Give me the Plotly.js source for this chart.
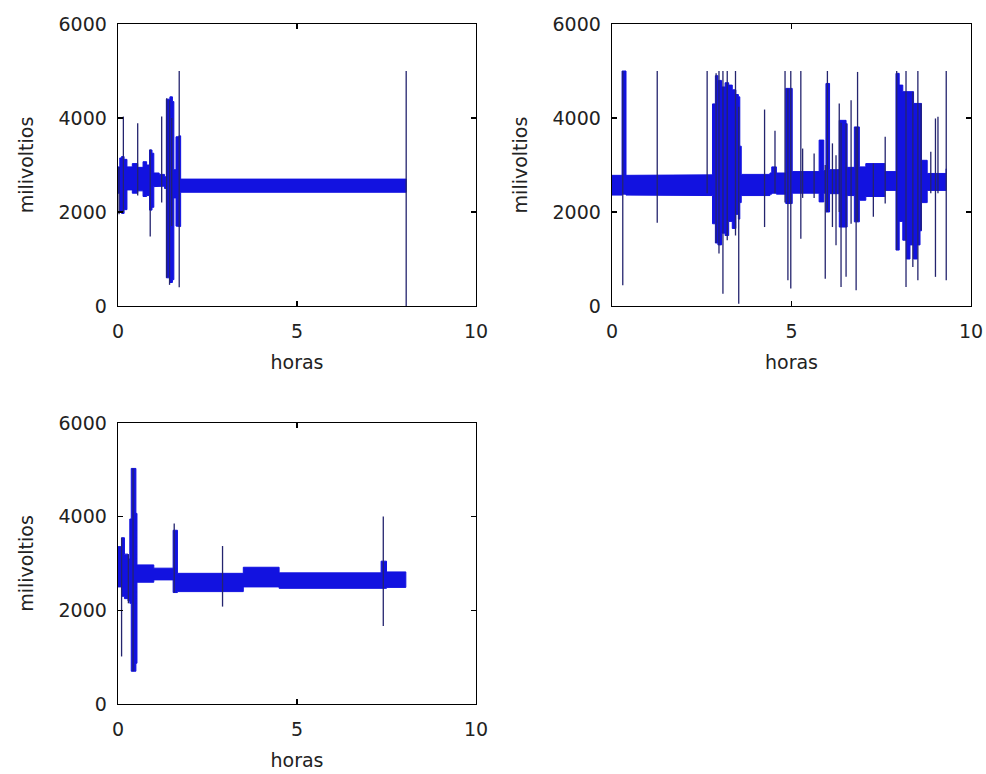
<!DOCTYPE html>
<html>
<head>
<meta charset="utf-8">
<script src="https://cdn.plot.ly/plotly-3.0.1.min.js"></script>
<style>
  html, body { margin: 0; padding: 0; background: #ffffff; }
  #chart { width: 986px; height: 774px; }
</style>
</head>
<body>
<div id="chart"></div>
<script>
// ---- Registro 1: envolvente de la señal (horas, máximo, mínimo) en mV ----
// cada valor se mantiene desde su instante hasta el siguiente
const tA  = [0.00, 0.05, 0.10, 0.17, 0.25, 0.40, 0.55, 0.70, 0.80, 0.88, 0.95, 1.00, 1.15, 1.30, 1.35, 1.45, 1.52, 1.56, 1.62, 1.70, 1.75, 8.05];
const upA = [2960, 3150, 3180, 3120, 2960, 3030, 2950, 3070, 3000, 3320, 3250, 2830, 2800, 2750, 4400, 4450, 4350, 2900, 3600, 3620, 2700, 2700];
const loA = [2400, 2000, 1970, 2050, 2470, 2400, 2450, 2330, 2350, 2040, 2100, 2540, 2550, 2500,  600,  500,  560, 2300, 1700, 1690, 2420, 2420];
// picos aislados: instante, valor superior, valor inferior
const spkA_t   = [0.03, 0.15, 0.55, 0.90, 1.22, 1.36, 1.44, 1.50, 1.71, 8.05];
const spkA_top = [2950, 4030, 3890, 3330, 4030, 4420, 4380, 4000, 5000, 5000];
const spkA_bot = [1950, 2000, 2350, 1480, 2200,  600,  450, 1700,  400,    0];

// ---- Registro 2 ----
const tB  = [0.00, 0.28, 0.38, 0.39, 2.77, 2.80, 2.88, 2.95, 3.05, 3.15, 3.25, 3.35, 3.45, 3.52, 3.56, 3.60, 4.40, 4.45, 4.53, 4.58, 4.84, 4.98, 5.02, 5.77, 5.86, 5.90, 5.96, 6.02, 6.06, 6.33, 6.52, 6.55, 6.75, 6.86, 6.89, 7.03, 7.07, 7.54, 7.60, 7.91, 8.00, 8.10, 8.20, 8.30, 8.40, 8.50, 8.58, 8.62, 8.75, 8.78, 9.31];
const upB = [2780, 5000, 5000, 2780, 2790, 4300, 4900, 4800, 4660, 4750, 4700, 4600, 4500, 4450, 3400, 2800, 2830, 2960, 2960, 2830, 4630, 4630, 2860, 3530, 3530, 2880, 4735, 4735, 2900, 3950, 3880, 2950, 3810, 3810, 2960, 2960, 3030, 3030, 2860, 4950, 4700, 4560, 4560, 4560, 4310, 4300, 4310, 3100, 3100, 2820, 2920];
const loB = [2360, 2380, 2380, 2360, 2350, 1750, 1340, 1300, 1550, 1500, 1800, 1650, 1950, 1850, 2200, 2350, 2380, 2400, 2400, 2380, 2180, 2180, 2400, 2215, 2215, 2400, 2000, 2000, 2390, 1680, 1680, 2350, 1790, 1790, 2250, 2250, 2330, 2330, 2460, 1190, 1800, 1400, 1000, 1300, 1000, 1300, 1600, 2200, 2200, 2460, 2540];
const spkB_t   = [0.30, 1.26, 2.65, 2.90, 2.98, 3.09, 3.21, 3.44, 3.53, 4.25, 4.54, 4.82, 4.90, 4.98, 5.26, 5.31, 5.63, 5.94, 6.00, 6.14, 6.24, 6.33, 6.38, 6.52, 6.66, 6.80, 6.84, 7.28, 7.61, 7.93, 8.19, 8.38, 8.52, 8.61, 8.88, 9.01, 9.08, 9.31];
const spkB_top = [5000, 5000, 5000, 4950, 5000, 5000, 5000, 5000, 4240, 4180, 3730, 5000, 4630, 5000, 5000, 3350, 3245, 3000, 5000, 3460, 3210, 4310, 3900, 3880, 4380, 3810, 4980, 3030, 3600, 5000, 5000, 4560, 5000, 4310, 3280, 3990, 4025, 5000];
const spkB_bot = [ 440, 1770, 2400, 1340, 1115,  260, 1400, 1500,   50, 1680, 2400, 2200,  550,  370, 1430, 2300, 2300,  580, 2000, 1680, 1290, 2000,  405,  620, 1750,  335, 1790, 1900, 2180, 1190,  405,  830,  550, 1610, 2400,  620, 2400,  550];

// ---- Registro 3 ----
const tC  = [0.00, 0.10, 0.18, 0.28, 0.33, 0.37, 0.47, 0.50, 0.53, 1.00, 1.54, 1.62, 1.66, 3.50, 4.50, 7.35, 7.45, 7.50, 8.04];
const upC = [3360, 3550, 3200, 3100, 3950, 5030, 5030, 4070, 2970, 2900, 3710, 3710, 2790, 2920, 2800, 3050, 3050, 2820, 2820];
const loC = [2500, 2300, 2250, 2200, 2150,  700,  700,  870, 2600, 2650, 2380, 2380, 2400, 2500, 2470, 2470, 2470, 2490, 2490];
const spkC_t   = [0.10, 0.29, 0.42, 1.57, 2.92, 7.41];
const spkC_top = [3550, 3200, 5030, 3855, 3373, 4006];
const spkC_bot = [1015, 2150,  700, 2380, 2080, 1667];

// ---- etiquetas y ejes ----
const xTicks = [0, 5, 10];
const yTicks = [0, 2000, 4000, 6000];
const xLabel = 'horas';
const yLabel = 'milivoltios';

const bandColor  = '#1212e0';
const spikeColor = '#24246e';

// Escalones: cada valor se mantiene hasta el instante siguiente
function steps(t, v) {
  const x = [], y = [];
  for (let i = 0; i < t.length; i++) {
    x.push(t[i]); y.push(v[i]);
    if (i + 1 < t.length) { x.push(t[i + 1]); y.push(v[i]); }
  }
  return { x, y };
}

// Banda rellena entre la envolvente superior y la inferior
function band(t, up, lo, xa, ya) {
  const u = steps(t, up), l = steps(t, lo);
  return {
    type: 'scatter', mode: 'lines', xaxis: xa, yaxis: ya,
    x: u.x.concat(l.x.slice().reverse()),
    y: u.y.concat(l.y.slice().reverse()),
    fill: 'toself', fillcolor: bandColor,
    line: { color: bandColor, width: 1 },
    hoverinfo: 'skip'
  };
}

// Picos verticales como segmentos separados por huecos
function spikes(t, top, bot, xa, ya) {
  const x = [], y = [];
  t.forEach((ti, i) => { x.push(ti, ti, null); y.push(top[i], bot[i], null); });
  return {
    type: 'scatter', mode: 'lines', xaxis: xa, yaxis: ya,
    x: x, y: y, connectgaps: false,
    line: { color: spikeColor, width: 1.3 },
    hoverinfo: 'skip'
  };
}

const data = [
  band(tA, upA, loA, 'x', 'y'),   spikes(spkA_t, spkA_top, spkA_bot, 'x', 'y'),
  band(tB, upB, loB, 'x2', 'y2'), spikes(spkB_t, spkB_top, spkB_bot, 'x2', 'y2'),
  band(tC, upC, loC, 'x3', 'y3'), spikes(spkC_t, spkC_top, spkC_bot, 'x3', 'y3')
];

const W = 986, H = 774;
const axFont = { family: 'DejaVu Sans, Arial, sans-serif', size: 19, color: '#222222' };

function xAxis(left, right, anchor) {
  return {
    domain: [left / W, right / W], anchor: anchor,
    range: [0, 10], tickmode: 'array', tickvals: xTicks, ticktext: xTicks.map(String),
    showgrid: false, zeroline: false,
    showline: true, linecolor: '#000000', linewidth: 1.3, mirror: 'allticks',
    ticks: 'inside', ticklen: 5, tickwidth: 1.2, tickcolor: '#000000',
    ticklabelstandoff: 8,
    tickfont: axFont,
    title: { text: xLabel, font: axFont, standoff: 14 },
    automargin: false, fixedrange: true
  };
}
function yAxis(top, bottom, anchor) {
  return {
    domain: [1 - bottom / H, 1 - top / H], anchor: anchor,
    range: [0, 6000], tickmode: 'array', tickvals: yTicks, ticktext: yTicks.map(String),
    showgrid: false, zeroline: false,
    showline: true, linecolor: '#000000', linewidth: 1.3, mirror: 'allticks',
    ticks: 'inside', ticklen: 5, tickwidth: 1.2, tickcolor: '#000000',
    ticklabelstandoff: 6,
    tickfont: axFont,
    title: { text: yLabel, font: axFont, standoff: 20 },
    automargin: false, fixedrange: true
  };
}

const layout = {
  width: W, height: H,
  margin: { l: 0, r: 0, t: 0, b: 0 },
  paper_bgcolor: '#ffffff', plot_bgcolor: '#ffffff',
  showlegend: false, hovermode: false,
  xaxis:  xAxis(118, 476, 'y'),
  yaxis:  yAxis(24, 306, 'x'),
  xaxis2: xAxis(612, 971, 'y2'),
  yaxis2: yAxis(24, 306, 'x2'),
  xaxis3: xAxis(118, 476, 'y3'),
  yaxis3: yAxis(423, 704, 'x3')
};

Plotly.newPlot('chart', data, layout, { staticPlot: true, displayModeBar: false });
</script>
</body>
</html>
